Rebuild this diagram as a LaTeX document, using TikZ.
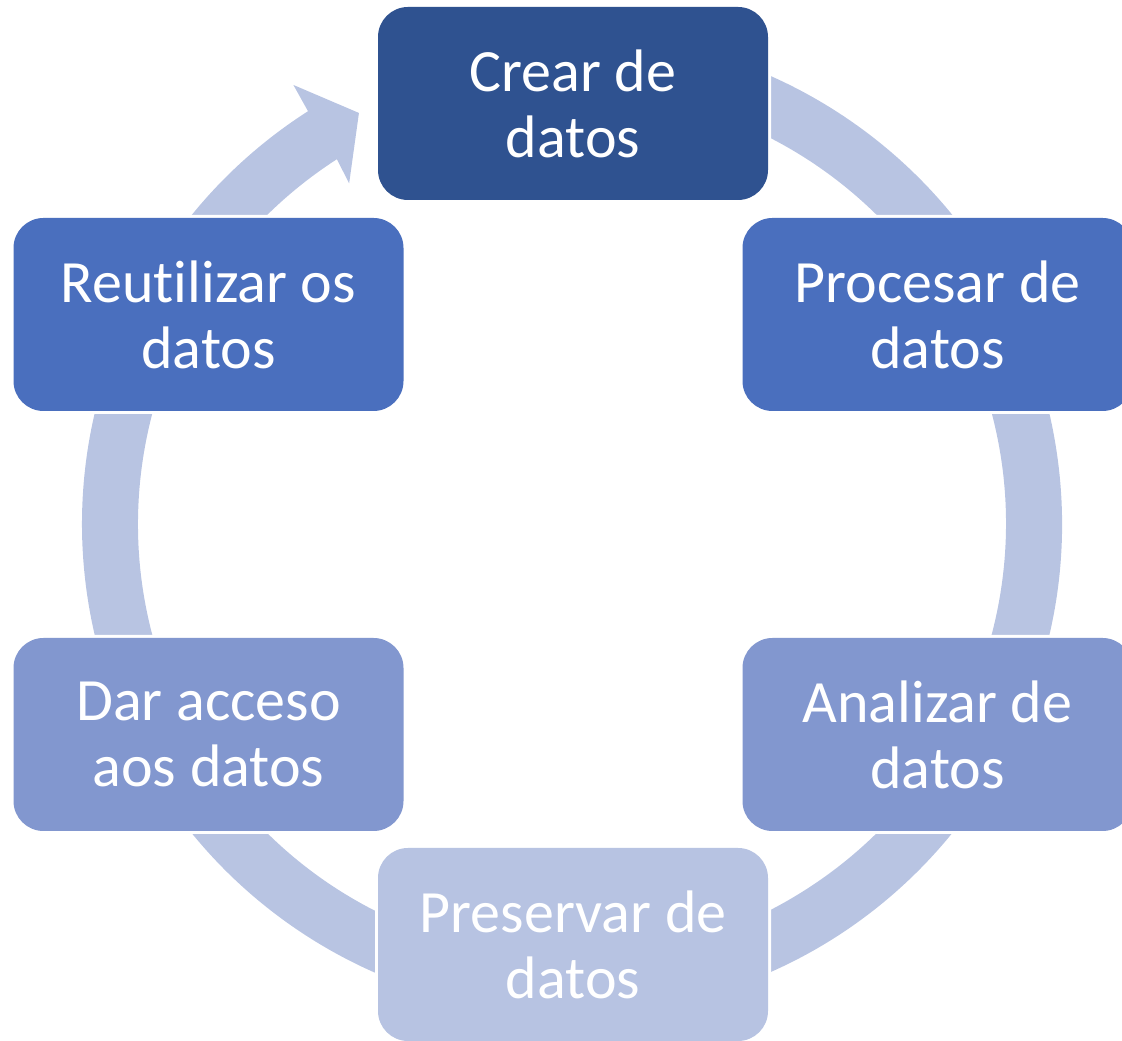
\documentclass[tikz,border=0pt]{standalone}
\usepackage{fontspec}
\setmainfont{Carlito}[Ligatures=NoCommon]
\usetikzlibrary{calc}
\definecolor{cDark}{HTML}{2F5290}
\definecolor{cMid}{HTML}{4A6FBE}
\definecolor{cLight}{HTML}{8297CF}
\definecolor{cPale}{HTML}{B7C3E2}
\definecolor{cRing}{HTML}{B8C4E2}
\begin{document}
\begin{tikzpicture}[x=0.75pt,y=0.75pt,
  stage/.style={rounded corners=22.5pt, minimum width=292.5pt, minimum height=144.75pt,
    inner sep=0pt, text=white, align=center,
    font=\fontsize{45}{49.5}\selectfont,
    preaction={draw=white, line width=4.5pt}},
  ringfill/.style={fill=cRing}
]
\useasboundingbox (0,0) rectangle (1122,1041);
\coordinate (c) at (572,517);
% cycle ring with arrow head
\fill[ringfill] ($(c)+(100:490)$) arc[start angle=100, end angle=-237.4, radius=490]
  -- ($(c)+(122.4:520)$) -- ($(c)+(117.4:463)$) -- ($(c)+(123.2:407)$)
  -- ($(c)+(122.8:434)$) arc[start angle=122.8, end angle=460, radius=434] -- cycle;
% stages
\node[stage, fill=cDark]  (crear)  at (573,937.5)   {Crear de\\datos};
\node[stage, fill=cMid]   (proc)   at (937.5,726.5) {Procesar de\\datos};
\node[stage, fill=cLight] (anal)   at (937.5,306.5) {Analizar de\\datos};
\node[stage, fill=cPale]  (pres)   at (573,96.5)    {Preservar de\\datos};
\node[stage, fill=cLight] (dar)    at (208.5,306.5) {Dar acceso\\aos datos};
\node[stage, fill=cMid]   (reut)   at (208.5,726.5) {Reutilizar os\\datos};
\end{tikzpicture}
\end{document}
